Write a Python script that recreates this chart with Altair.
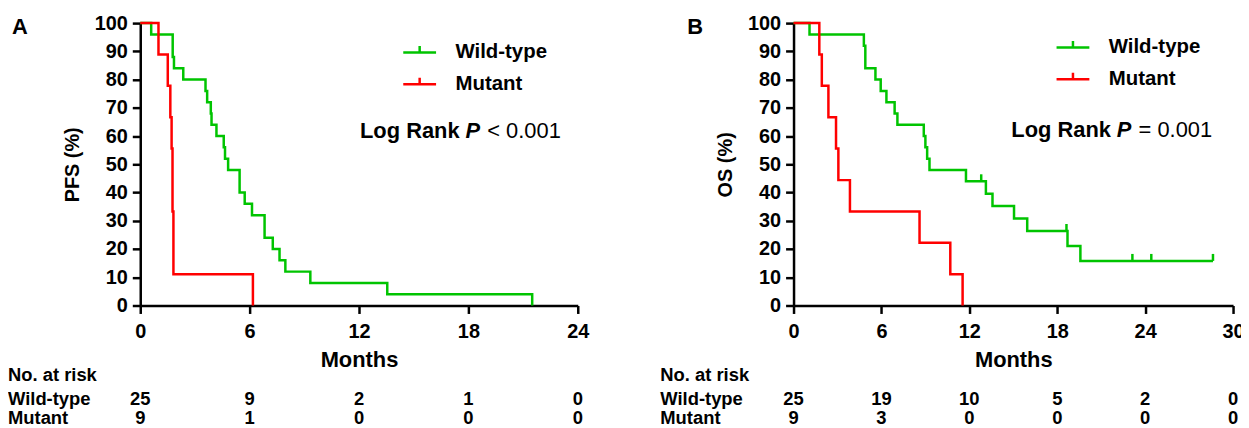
import altair as alt
import pandas as pd

FONT = "Liberation Sans"
GREEN = "#00C400"
RED = "#FF0000"

groups = ["Wild-type", "Mutant"]

# ---- Panel A: PFS (months, survival % after each step) ----
pfs_wt_t = [0.6, 1.78, 1.85, 2.36, 3.58, 3.67, 3.87, 3.91, 4.18, 4.58, 4.65, 4.82,
            5.45, 5.73, 6.13, 6.82, 7.27, 7.64, 7.96, 9.33, 13.55, 21.5]
pfs_wt_s = [96, 88, 84, 80, 76, 72, 68, 64, 60, 56, 52, 48,
            40, 36, 32, 24, 20, 16, 12, 8, 4, 0]
pfs_mu_t = [1.0, 1.51, 1.65, 1.72, 1.77, 1.82, 6.18]
pfs_mu_s = [88.9, 77.8, 66.7, 55.6, 33.3, 11.1, 0]

# ---- Panel B: OS ----
os_wt_t = [1.09, 4.8, 4.9, 5.59, 5.95, 6.34, 6.9, 7.09, 8.89, 9.0, 9.12, 9.28,
           11.77, 13.13, 13.58, 15.05, 15.95, 18.7, 19.58, 28.63]
os_wt_s = [96, 92, 84, 80, 76, 72, 68, 64, 60, 56, 52, 48,
           44, 39.6, 35.2, 30.8, 26.4, 21.1, 15.8, 15.8]
os_wt_cens_t = [12.81, 18.63, 23.13, 24.42, 28.63]
os_wt_cens_s = [44, 26.4, 15.8, 15.8, 15.8]
os_mu_t = [1.76, 1.93, 2.38, 2.9, 3.06, 3.85, 8.6, 10.7, 11.54]
os_mu_s = [88.9, 77.8, 66.7, 55.6, 44.4, 33.3, 22.2, 11.1, 0]

# ---- Risk tables ----
risk_a_t = [0, 6, 12, 18, 24]
risk_a_wt = [25, 9, 2, 1, 0]
risk_a_mu = [9, 1, 0, 0, 0]
risk_b_t = [0, 6, 12, 18, 24, 30]
risk_b_wt = [25, 19, 10, 5, 2, 0]
risk_b_mu = [9, 3, 0, 0, 0, 0]

y_ticks = [0, 10, 20, 30, 40, 50, 60, 70, 80, 90, 100]
row_labels = ["No. at risk", "Wild-type", "Mutant"]

H = 284
ROW_Y = [354, 378, 397]
ROW_FS = 18.5


def km_frame(wt_t, wt_s, mu_t, mu_s):
    rows = []
    for g, ts, ss in [("Wild-type", wt_t, wt_s), ("Mutant", mu_t, mu_s)]:
        rows.append({"group": g, "t": 0.0, "s": 100.0, "o": 0})
        for i, (t, s) in enumerate(zip(ts, ss)):
            rows.append({"group": g, "t": t, "s": s, "o": i + 1})
    return pd.DataFrame(rows)


def axis_x(vals):
    return alt.Axis(values=vals, title="Months", format="d", grid=False,
                    labelFont=FONT, labelFontSize=20, labelFontWeight="bold",
                    labelColor="black", labelPadding=8, labelFlush=False,
                    titleFont=FONT, titleFontSize=22, titleFontWeight="bold",
                    titleColor="black", titlePadding=8,
                    domainColor="black", domainWidth=2.5,
                    tickColor="black", tickWidth=2.5, tickSize=8)


def axis_y(title):
    return alt.Axis(values=y_ticks, title=title, format="d", grid=False,
                    labelFont=FONT, labelFontSize=20, labelFontWeight="bold",
                    labelColor="black", labelPadding=5,
                    titleFont=FONT, titleFontSize=20, titleFontWeight="bold",
                    titleColor="black", titlePadding=12,
                    domainColor="black", domainWidth=2.5,
                    tickColor="black", tickWidth=2.5, tickSize=8)


def legend(ly):
    return alt.Legend(orient="none", legendX=263, legendY=ly, title=None,
                      direction="vertical", padding=0,
                      symbolType="M-1,0L1,0M0,0L0,-0.4", symbolSize=1089,
                      symbolStrokeWidth=2.5, symbolFillColor="transparent",
                      labelFont=FONT, labelFontSize=20.5, labelFontWeight="bold",
                      labelColor="black", labelOffset=18, rowPadding=3)


def one_text(text, x, y, weight="bold", style="normal", size=21, align="left"):
    return alt.Chart(alt.Data(values=[{}])).mark_text(
        align=align, baseline="middle", font=FONT, fontSize=size,
        fontWeight=weight, fontStyle=style, color="black", text=text
    ).encode(x=alt.value(x), y=alt.value(y))


def panel(df, xmax, ticks, ytitle, letter, letter_x, leg_y, lr, risk_t, risk_wt, risk_mu,
          width, lab_x, cens=None):
    xs = alt.Scale(domain=[0, xmax], nice=False, zero=False)
    ys = alt.Scale(domain=[0, 100], nice=False)
    ax_x = axis_x(ticks)
    ax_y = axis_y(ytitle)
    lines = alt.Chart(df).mark_line(interpolate="step-after", strokeWidth=2.5).encode(
        x=alt.X("t:Q", scale=xs, axis=ax_x),
        y=alt.Y("s:Q", scale=ys, axis=ax_y),
        color=alt.Color("group:N", scale=alt.Scale(domain=groups, range=[GREEN, RED]),
                        legend=legend(leg_y)),
        order="o:Q",
    )
    layers = [lines]
    if cens is not None:
        layers.append(alt.Chart(cens).mark_point(
            shape="M0,0L0,-1", size=196, filled=False, strokeWidth=2.5, color=GREEN,
            opacity=1
        ).encode(x=alt.X("t:Q", scale=xs, axis=ax_x),
                 y=alt.Y("s:Q", scale=ys, axis=ax_y)))
    rt = pd.DataFrame({"t": risk_t + risk_t,
                       "n": risk_wt + risk_mu,
                       "row": ["Wild-type"] * len(risk_t) + ["Mutant"] * len(risk_t)})
    for row, yy in zip(["Wild-type", "Mutant"], ROW_Y[1:]):
        layers.append(alt.Chart(rt).transform_filter(alt.datum.row == row).mark_text(
            align="center", baseline="middle", font=FONT, fontSize=ROW_FS,
            fontWeight="bold", color="black"
        ).encode(x=alt.X("t:Q", scale=xs, axis=ax_x), y=alt.value(yy), text="n:N"))
    for lab, yy in zip(row_labels, ROW_Y):
        layers.append(one_text(lab, lab_x, yy, size=ROW_FS))
    layers.append(one_text(letter, letter_x, 4, size=22, align="center"))
    # Log Rank annotation
    (x1, x2, x3, y3, rest) = lr
    layers.append(one_text("Log Rank", x1, y3, size=22))
    layers.append(one_text("P", x2, y3, style="italic", size=22))
    layers.append(one_text(rest, x3, y3, weight="normal", size=22))
    return alt.layer(*layers).properties(width=width, height=H)


df_a = km_frame(pfs_wt_t, pfs_wt_s, pfs_mu_t, pfs_mu_s)
df_b = km_frame(os_wt_t, os_wt_s, os_mu_t, os_mu_s)
cens_b = pd.DataFrame({"t": os_wt_cens_t, "s": os_wt_cens_s})

pa = panel(df_a, 24, risk_a_t, "PFS (%)", "A", -121, 11.5,
           (221, 327, 349, 109, "< 0.001"), risk_a_t, risk_a_wt, risk_a_mu, 440, -133)
pb = panel(df_b, 30, risk_b_t, "OS (%)", "B", -99, 6.5,
           (219, 325, 347, 108, "= 0.001"), risk_b_t, risk_b_wt, risk_b_mu, 442, -134,
           cens=cens_b)

chart = alt.hconcat(pa, pb, spacing=217, bounds="flush").resolve_legend(
    color="independent"
).resolve_scale(x="independent", y="independent").configure_view(stroke=None).properties(
    padding={"left": 0, "top": 4, "right": -4, "bottom": 0},
    background="white",
)

chart.save("out.html", embed_options={"renderer": "svg", "actions": False})
